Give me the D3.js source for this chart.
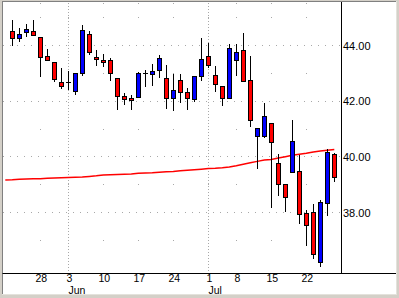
<!DOCTYPE html>
<html><head><meta charset="utf-8">
<script src="https://cdn.jsdelivr.net/npm/d3@7"></script>
<style>html,body{margin:0;padding:0;background:#d4d0c8;} svg{display:block;}</style>
</head><body><svg id="c" width="399" height="298"></svg>
<script>
// ---- data (2002 daily candles) ----
const dates = ["2002-05-21","2002-05-22","2002-05-23","2002-05-24","2002-05-28","2002-05-29","2002-05-30","2002-05-31",
"2002-06-03","2002-06-04","2002-06-05","2002-06-06","2002-06-07","2002-06-10","2002-06-11","2002-06-12","2002-06-13","2002-06-14",
"2002-06-17","2002-06-18","2002-06-19","2002-06-20","2002-06-21","2002-06-24","2002-06-25","2002-06-26","2002-06-27","2002-06-28",
"2002-07-01","2002-07-02","2002-07-03","2002-07-05","2002-07-08","2002-07-09","2002-07-10","2002-07-11","2002-07-12",
"2002-07-15","2002-07-16","2002-07-17","2002-07-18","2002-07-19","2002-07-22","2002-07-23","2002-07-24","2002-07-25","2002-07-26"];
const openV  = [44.51,44.24,44.46,44.49,44.28,43.59,43.39,42.66,42.68,42.34,42.98,44.40,43.57,43.46,43.45,42.80,42.16,42.10,42.12,42.99,42.95,43.09,42.80,42.08,42.73,42.30,42.05,42.88,43.59,42.91,42.52,42.11,43.47,43.81,42.73,40.74,40.74,41.19,39.75,38.99,39.43,39.48,37.95,38.00,36.21,38.31,40.09];
const highV  = [44.93,44.65,44.78,44.93,44.28,43.88,43.39,43.21,43.10,43.04,44.75,44.54,43.86,43.71,43.56,42.85,42.30,42.23,43.07,43.15,43.35,43.68,43.32,42.99,42.99,42.48,42.91,44.29,44.10,43.27,42.52,44.06,44.06,44.46,43.63,41.01,41.94,41.24,40.11,38.99,41.33,40.07,38.11,38.33,38.47,40.29,40.14];
const lowV   = [44.00,44.15,44.33,44.35,42.89,43.47,42.72,42.45,42.41,42.25,42.91,43.67,43.29,43.23,42.73,41.69,41.87,41.69,42.12,42.54,42.57,42.84,41.75,41.65,41.96,41.69,42.00,42.73,43.21,42.34,41.83,42.11,42.91,42.70,41.10,39.59,40.68,38.19,38.61,38.05,39.43,37.61,36.80,36.36,36.07,37.90,39.12];
const closeV = [44.24,44.38,44.56,44.35,43.56,43.47,42.79,42.52,42.68,42.99,44.53,43.74,43.49,43.38,42.98,42.16,42.05,42.01,42.99,42.99,43.07,43.52,42.08,42.37,42.30,42.08,42.88,43.49,43.27,42.59,42.08,43.88,43.74,42.70,41.29,41.01,41.44,40.53,38.99,38.53,40.56,37.92,37.52,36.48,38.36,40.16,39.25];
// moving average: first value belongs to the session before the first candle (2002-05-20)
const maValues = [39.15,39.16,39.18,39.19,39.20,39.20,39.21,39.22,39.23,39.24,39.25,39.26,39.28,39.30,39.33,39.34,39.35,39.36,39.37,39.39,39.40,39.41,39.43,39.45,39.46,39.48,39.50,39.52,39.54,39.56,39.57,39.59,39.62,39.66,39.72,39.77,39.82,39.87,39.89,39.94,39.99,40.04,40.08,40.11,40.16,40.19,40.22,40.25];
const dayTickDates = ["2002-05-28","2002-06-03","2002-06-10","2002-06-17","2002-06-24","2002-07-01","2002-07-08","2002-07-15","2002-07-22"];
const dayTickLabels = ["28","3","10","17","24","1","8","15","22"];
const monthDates = ["2002-06-03","2002-07-01"];
const monthLabels = ["Jun","Jul"];
const yTicks = [38,40,42,44];
const yMinor = [37,39,41,43,45];

// ---- chart ----
const svg = d3.select("#c");
const W = 399, H = 298;
const plotL = 3, plotR = 341.5, plotT = 2, plotB = 273.5;
const x = d3.scaleLinear().domain([-1, 46]).range([5.3, 334.3]);
const y = d3.scaleLinear().domain([35.81, 45.51]).range([273, 3]);
const px = i => Math.round(x(i)) + 0.5;
const py = v => Math.round(y(v)) + 0.5;
const idx = d => dates.indexOf(d);

// frame
svg.append("rect").attr("x",0).attr("y",0).attr("width",W).attr("height",H).attr("fill","#d4d0c8");
svg.append("rect").attr("x",2).attr("y",1).attr("width",395).attr("height",294).attr("fill","#ffffff");
svg.append("line").attr("x1",2).attr("x2",397).attr("y1",1.5).attr("y2",1.5).attr("stroke","#808080");
svg.append("line").attr("x1",2.5).attr("x2",2.5).attr("y1",1).attr("y2",294).attr("stroke","#808080");
svg.append("line").attr("x1",396.5).attr("x2",396.5).attr("y1",1).attr("y2",295).attr("stroke","#e4e2dc");
svg.append("line").attr("x1",2).attr("x2",397).attr("y1",294.5).attr("y2",294.5).attr("stroke","#e4e2dc");

const grid = svg.append("g").attr("stroke","#a8a8a8").attr("fill","none");
// major horizontal dotted lines
grid.selectAll("line.h").data(yTicks).join("line")
  .attr("x1",plotL).attr("x2",plotR-1).attr("y1",d=>py(d)).attr("y2",d=>py(d))
  .attr("stroke-dasharray","1,6");
// month vertical dotted lines
grid.selectAll("line.m").data(monthDates).join("line")
  .attr("x1",d=>px(idx(d))).attr("x2",d=>px(idx(d))).attr("y1",plotT+1).attr("y2",plotB-1)
  .attr("stroke-dasharray","1,2");
// minor dots: week positions x odd levels
const dots = [];
dayTickDates.forEach(d=>yMinor.forEach(v=>dots.push([idx(d),v])));
dayTickDates.forEach(d=>dots.push([idx(d),null]));
svg.append("g").selectAll("rect").data(dots).join("rect")
  .attr("x",d=>Math.round(x(d[0]))).attr("y",d=> d[1]===null ? plotT+1 : Math.round(y(d[1])))
  .attr("width",1).attr("height",1).attr("fill","#a8a8a8");

// moving average
const line = d3.line().x((d,i)=>x(i-1)).y(d=>y(d));
svg.append("path").datum(maValues).attr("d",line).attr("fill","none")
  .attr("stroke","#ff0000").attr("stroke-width",1.5);

// candles
const cd = dates.map((d,i)=>({i,o:openV[i],h:highV[i],l:lowV[i],c:closeV[i]}));
const cg = svg.append("g");
cg.selectAll("line.w").data(cd).join("line")
  .attr("x1",d=>px(d.i)).attr("x2",d=>px(d.i)).attr("y1",d=>py(d.h)).attr("y2",d=>py(d.l))
  .attr("stroke","#000").attr("shape-rendering","crispEdges");
cg.selectAll("rect.b").data(cd.filter(d=>d.o!==d.c)).join("rect")
  .attr("x",d=>px(d.i)-2).attr("width",4)
  .attr("y",d=>py(Math.max(d.o,d.c))).attr("height",d=>Math.max(1,py(Math.min(d.o,d.c))-py(Math.max(d.o,d.c))))
  .attr("fill",d=>d.c>d.o?"#0000ff":"#ff0000").attr("stroke","#000").attr("shape-rendering","crispEdges");
cg.selectAll("line.d").data(cd.filter(d=>d.o===d.c)).join("line")
  .attr("x1",d=>px(d.i)-2.5).attr("x2",d=>px(d.i)+2.5).attr("y1",d=>py(d.o)).attr("y2",d=>py(d.o))
  .attr("stroke","#000").attr("shape-rendering","crispEdges");

// axes lines
svg.append("line").attr("x1",2.5).attr("x2",396).attr("y1",plotB).attr("y2",plotB).attr("stroke","#000");
svg.append("line").attr("x1",plotR).attr("x2",plotR).attr("y1",2).attr("y2",plotB).attr("stroke","#000");

const font = "'Liberation Sans', Arial, sans-serif";
// x axis labels
const xa = d3.axisBottom(x).tickValues(dayTickDates.map(idx)).tickFormat((d,i)=>dayTickLabels[i]).tickSize(0).tickPadding(0);
const gx = svg.append("g").attr("transform",`translate(0.5,${plotB})`).call(xa);
gx.select(".domain").remove();
gx.selectAll("text").attr("dy",null).attr("y",8.3).attr("font-family",font).attr("font-size",10.5).attr("fill","#000");
svg.selectAll("text.mon").data(monthDates).join("text").attr("class","mon")
  .attr("x",(d)=>px(idx(d))).attr("y",293.8).text((d,i)=>monthLabels[i])
  .attr("font-family",font).attr("font-size",10.5).attr("fill","#000");
// y axis labels
const ya = d3.axisRight(y).tickValues(yTicks).tickFormat(d3.format(".2f")).tickSize(0).tickPadding(1.5);
const gy = svg.append("g").attr("transform",`translate(${plotR},0.5)`).call(ya);
gy.select(".domain").remove();
gy.selectAll("text").attr("font-family",font).attr("font-size",11).attr("fill","#000");
</script></body></html>
